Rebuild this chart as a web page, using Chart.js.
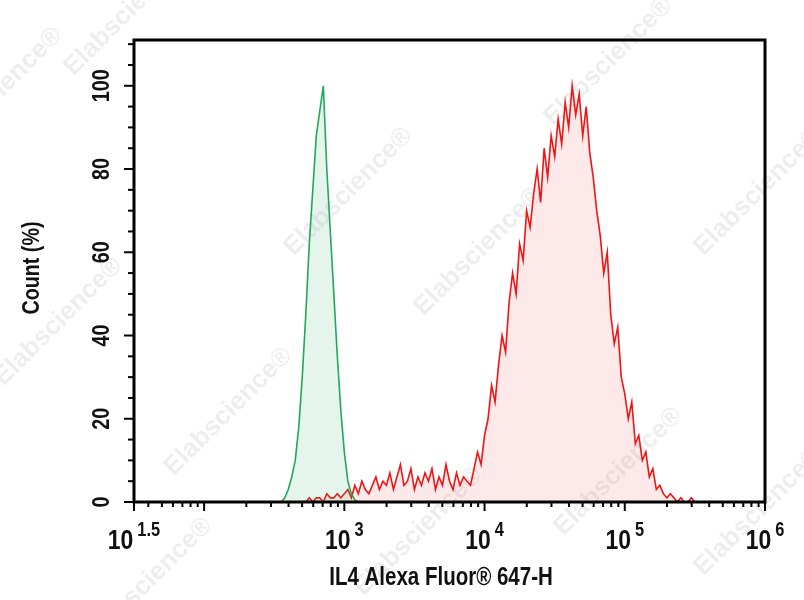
<!DOCTYPE html>
<html><head><meta charset="utf-8">
<script src="https://cdn.jsdelivr.net/npm/chart.js@4"></script>
<style>html,body{margin:0;padding:0;background:#fff}#w{width:804px;height:600px}</style>
</head><body><div id="w"><canvas id="c"></canvas></div>
<script>
const greenStart = 2.55, redStart = 2.70, binStep = 0.025;
const greenCounts = [0,1,3,6,10,18,30,45,62,75,88,94,100,80,65,50,35,22,12,5,2,0.5,0];
const redCounts = [
0,0,1,0,1,1,0,2,1,1,2,1,
2,3,1,4,2,5,3,2,4,6,3,5,
4,7,3,6,9,4,5,8,3,6,4,7,
5,8,3,6,4,9,5,3,7,4,6,5,
4,8,12,9,16,20,28,24,33,40,36,48,
55,50,62,58,70,66,74,80,72,85,78,88,
83,92,86,96,90,100,93,98,88,95,84,78,
70,64,55,60,45,38,42,30,26,20,24,14,
16,10,12,6,8,3,4,2,1,2,1,0,
1,0,0,1,0,0,0,0,0];
const xTickExps = [1.5,3,4,5,6];
const xTickLabels = [["10","1.5"],["10","3"],["10","4"],["10","5"],["10","6"]];
const yTicks = [0,20,40,60,80,100];
const xTitle = "IL4 Alexa Fluor® 647-H";
const yTitle = "Count (%)";

const pts=(s,a)=>a.map((v,i)=>({x:+(s+i*binStep).toFixed(3),y:v}));
const F='"Liberation Sans",Arial,sans-serif';
const SX=0.82;
function ctext(c,t,x,y){c.save();c.translate(x,y);c.scale(SX,1);c.fillText(t,0,0);c.restore();}

const deco={id:'deco',
 beforeDraw(ch){const c=ch.ctx;c.save();c.font='bold 26px "Liberation Sans",sans-serif';c.fillStyle='rgba(0,0,0,0.07)';
  const marks=[[130,20],[350,200],[480,260],[610,70],[760,200],[60,330],[230,420],[420,540],[620,480],[760,520],[150,590],[0,100]];
  for(const [x,y] of marks){c.save();c.translate(x,y);c.rotate(-Math.PI/4);c.fillText('Elabscience®',-80,0);c.restore();}
  c.restore();},
 afterDraw(ch){const c=ch.ctx,a=ch.chartArea,xs=ch.scales.x,ys=ch.scales.y;c.save();
  c.strokeStyle='#000';c.lineWidth=3;c.strokeRect(a.left,a.top,a.right-a.left,a.bottom-a.top);
  c.lineWidth=2;
  for(let d=1;d<6;d++){for(let k=1;k<10;k++){const e=d+Math.log10(k);if(e<1.5||e>6)continue;const px=xs.getPixelForValue(e);
   const L=(k===1)?9:5;c.beginPath();c.moveTo(px,a.bottom);c.lineTo(px,a.bottom+L);c.stroke();}}
  for(const e of [1.5,6]){const px=xs.getPixelForValue(e);c.beginPath();c.moveTo(px,a.bottom);c.lineTo(px,a.bottom+9);c.stroke();}
  for(let v=0;v<=110;v+=5){const py=ys.getPixelForValue(v);const L=v%20===0?10:6;c.beginPath();c.moveTo(a.left,py);c.lineTo(a.left-L,py);c.stroke();}
  c.fillStyle='#111';c.textBaseline='alphabetic';c.textAlign='left';
  xTickExps.forEach((e,i)=>{const px=xs.getPixelForValue(e);const [b,s]=xTickLabels[i];
   c.font='bold 28px '+F;const wb=c.measureText(b).width*SX;c.font='bold 20px '+F;const ws=c.measureText(s).width*SX;
   const x0=px-(wb+ws+4)/2;c.font='bold 28px '+F;ctext(c,b,x0,549);
   c.font='bold 20px '+F;ctext(c,s,x0+wb+4,536);});
  c.font='bold 24px '+F;c.textAlign='center';c.textBaseline='middle';
  yTicks.forEach(v=>{const py=ys.getPixelForValue(v);c.save();c.translate(102,py);c.rotate(-Math.PI/2);ctext(c,String(v),0,0);c.restore();});
  c.save();c.translate(32,268);c.rotate(-Math.PI/2);ctext(c,yTitle,0,0);c.restore();
  c.font='bold 25px '+F;ctext(c,xTitle,441,578);
  c.restore();}};

new Chart(document.getElementById('c'),{type:'line',
 data:{datasets:[
  {data:pts(greenStart,greenCounts),borderColor:'#21a85a',backgroundColor:'rgba(60,180,110,0.13)',fill:'origin',borderWidth:1.6,pointRadius:0,tension:0},
  {data:pts(redStart,redCounts),borderColor:'#f01414',backgroundColor:'rgba(240,40,40,0.1)',fill:'origin',borderWidth:1.6,pointRadius:0,tension:0}]},
 options:{responsive:true,maintainAspectRatio:false,animation:false,
  layout:{padding:{left:0,right:39,top:40,bottom:0}},
  plugins:{legend:{display:false},tooltip:{enabled:false}},
  scales:{
   x:{type:'linear',min:1.5,max:6,grid:{display:false,drawTicks:false},border:{display:false},ticks:{display:false},afterFit(s){s.height=98;}},
   y:{min:0,max:111,grid:{display:false,drawTicks:false},border:{display:false},ticks:{display:false},afterFit(s){s.width=134;}}}},
 plugins:[deco]});
</script></body></html>
